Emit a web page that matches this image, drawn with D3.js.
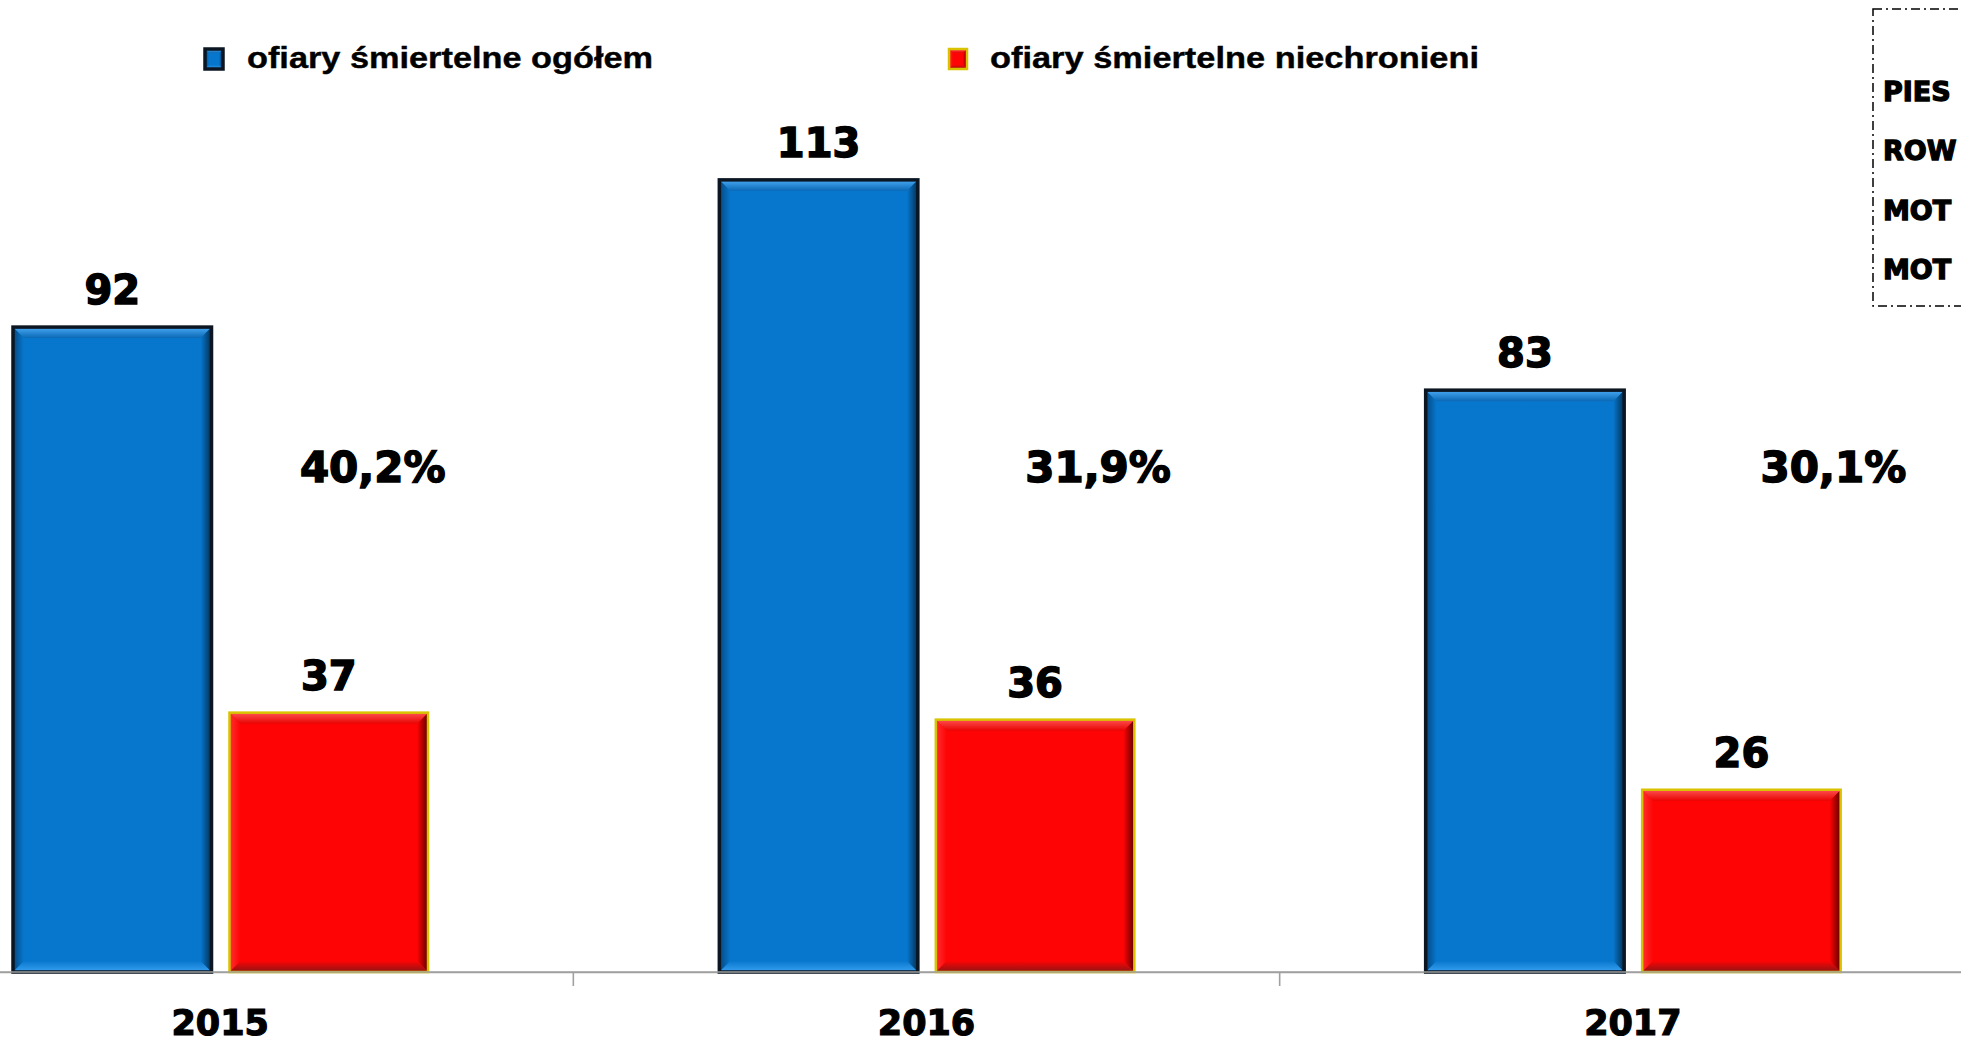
<!DOCTYPE html>
<html>
<head>
<meta charset="utf-8">
<script src="https://cdn.jsdelivr.net/npm/d3@7"></script>
<style>
  html, body { margin: 0; padding: 0; background: #fff; overflow: hidden; }
  svg { display: block; }
</style>
</head>
<body>
<svg id="chart" width="1961" height="1044"></svg>
<script>
// ---------------- data ----------------
const years = ["2015", "2016", "2017"];
const seriesNames = ["ofiary śmiertelne ogółem", "ofiary śmiertelne niechronieni"];
const totalDeaths = [92, 113, 83];
const unprotectedDeaths = [37, 36, 26];
const shareLabels = ["40,2%", "31,9%", "30,1%"];
// side legend box is cut at the picture's right edge: only these parts are visible
const sideLegendLabels = ["PIES", "ROW", "MOT", "MOT"];

// ---------------- layout ----------------
const W = 1961, H = 1044;
const baseY = 972;
const svg = d3.select("#chart");
const defs = svg.append("defs");

const x0 = d3.scaleBand().domain(years).range([-133, 1986]).paddingInner(0).paddingOuter(0);
const x1 = d3.scaleBand().domain(seriesNames).range([146, 561]).paddingInner(0.083).paddingOuter(0);
const y = d3.scaleLinear().domain([0, 120]).range([baseY, baseY - 120 * 7.01]);

const styles = [
  { base: "#0777CE", border: "#0b1622", borderW: 3.5,
    top: ["#4aaaf6", "#0a68b4"], left: ["#05477e", "#0777CE"], right: ["#0777CE", "#042f52"], bottom: ["#0777CE", "#3aa2f2"] },
  { base: "#FE0404", border: "#d9c300", borderW: 2.5,
    top: ["#ff5050", "#e80404"], left: ["#ff3030", "#FE0404"], right: ["#FE0404", "#5e0000"], bottom: ["#FE0404", "#8e1414"] }
];

function grad(id, c, x1_, y1_, x2_, y2_) {
  const g = defs.append("linearGradient").attr("id", id)
    .attr("x1", x1_).attr("y1", y1_).attr("x2", x2_).attr("y2", y2_);
  g.append("stop").attr("offset", "0").attr("stop-color", c[0]);
  g.append("stop").attr("offset", "1").attr("stop-color", c[1]);
}
styles.forEach((s, i) => {
  grad("gt" + i, s.top, 0, 0, 0, 1);
  grad("gl" + i, s.left, 0, 0, 1, 0);
  grad("gr" + i, s.right, 0, 0, 1, 0);
  grad("gb" + i, s.bottom, 0, 0, 0, 1);
});

function bevelRect(g, x, yTop, w, h, si, b) {
  const s = styles[si];
  g.append("rect").attr("x", x).attr("y", yTop).attr("width", w).attr("height", h).attr("fill", s.base);
  const pts = {
    t: [[x, yTop], [x + w, yTop], [x + w - b, yTop + b], [x + b, yTop + b]],
    b: [[x, yTop + h], [x + w, yTop + h], [x + w - b, yTop + h - b], [x + b, yTop + h - b]],
    l: [[x, yTop], [x + b, yTop + b], [x + b, yTop + h - b], [x, yTop + h]],
    r: [[x + w, yTop], [x + w - b, yTop + b], [x + w - b, yTop + h - b], [x + w, yTop + h]]
  };
  g.append("polygon").attr("points", pts.l.join(" ")).attr("fill", `url(#gl${si})`);
  g.append("polygon").attr("points", pts.r.join(" ")).attr("fill", `url(#gr${si})`);
  g.append("polygon").attr("points", pts.t.join(" ")).attr("fill", `url(#gt${si})`);
  g.append("polygon").attr("points", pts.b.join(" ")).attr("fill", `url(#gb${si})`);
  g.append("rect").attr("x", x).attr("y", yTop).attr("width", w).attr("height", h)
    .attr("fill", "none").attr("stroke", s.border).attr("stroke-width", s.borderW);
}

// ---------------- axis ----------------
const axis = d3.axisBottom(x0).tickSize(0).tickPadding(38);
const axG = svg.append("g").attr("transform", `translate(0,${baseY})`).call(axis);
axG.select(".domain").attr("stroke", "#a0a0a0").attr("stroke-width", 1.6);
axG.selectAll(".tick text")
  .attr("font-family", "'DejaVu Sans', sans-serif").attr("font-weight", "bold")
  .attr("font-size", 35).attr("fill", "#000").attr("stroke", "#000").attr("stroke-width", 1.2);
// category separators
svg.append("g").selectAll("line").data(years.slice(1)).join("line")
  .attr("x1", d => x0(d)).attr("x2", d => x0(d))
  .attr("y1", baseY).attr("y2", baseY + 14)
  .attr("stroke", "#a0a0a0").attr("stroke-width", 1.6);

// ---------------- bars ----------------
const rows = years.map((yr, i) => ({ year: yr, values: [totalDeaths[i], unprotectedDeaths[i]], share: shareLabels[i] }));
const barsG = svg.append("g");
rows.forEach(r => {
  r.values.forEach((v, si) => {
    const bx = x0(r.year) + x1(seriesNames[si]);
    const by = y(v);
    const bh = baseY - by;
    bevelRect(barsG, bx, by, x1.bandwidth(), bh, si, 11);
  });
});
// axis line drawn over bars' bottoms
svg.append("line").attr("x1", 0).attr("x2", W).attr("y1", baseY).attr("y2", baseY)
  .attr("stroke", "#a0a0a0").attr("stroke-width", 1.6);

// ---------------- value labels ----------------
const heavy = sel => sel.attr("font-family", "'DejaVu Sans', sans-serif").attr("font-weight", "bold")
  .attr("fill", "#000").attr("stroke", "#000").attr("stroke-width", 1.5).attr("text-anchor", "middle");

const lblG = svg.append("g");
rows.forEach(r => {
  r.values.forEach((v, si) => {
    lblG.append("text")
      .attr("x", x0(r.year) + x1(seriesNames[si]) + x1.bandwidth() / 2)
      .attr("y", y(v) - 23)
      .attr("font-size", 40)
      .call(heavy)
      .text(v);
  });
});

// share labels (manually placed annotations next to red bars)
const pctDx = [44, 63, 92];
rows.forEach((r, i) => {
  lblG.append("text")
    .attr("x", x0(r.year) + x1(seriesNames[1]) + x1.bandwidth() / 2 + pctDx[i])
    .attr("y", 482)
    .attr("font-size", 42)
    .call(heavy)
    .text(r.share);
});

// ---------------- legend ----------------
const legX = [205, 949];
const legTextX = [247, 990];
const legTextLen = [406, 489];
const leg = svg.append("g");
seriesNames.forEach((n, i) => {
  bevelRect(leg, legX[i], 49, 18, 20, i, 4);
  leg.append("text").attr("x", legTextX[i]).attr("y", 68)
    .attr("font-family", "'Liberation Sans', Arial, sans-serif").attr("font-weight", "bold")
    .attr("font-size", 30).attr("fill", "#000").attr("stroke", "#000").attr("stroke-width", 0.4)
    .attr("textLength", legTextLen[i]).attr("lengthAdjust", "spacingAndGlyphs")
    .text(n);
});

// ---------------- side legend box (cropped at right edge) ----------------
const side = svg.append("g");
side.append("rect").attr("x", 1873).attr("y", 9).attr("width", 400).attr("height", 297)
  .attr("fill", "none").attr("stroke", "#000").attr("stroke-width", 1.5)
  .attr("stroke-dasharray", "9,4,2,4");
const sideY = d3.scalePoint().domain(d3.range(sideLegendLabels.length)).range([101, 279]);
sideLegendLabels.forEach((t, i) => {
  side.append("text")
    .attr("x", 1883).attr("y", sideY(i))
    .attr("font-family", "'DejaVu Sans', sans-serif").attr("font-weight", "bold")
    .attr("font-size", 27).attr("fill", "#000").attr("stroke", "#000").attr("stroke-width", 1.3)
    .text(t);
});
</script>
</body>
</html>
